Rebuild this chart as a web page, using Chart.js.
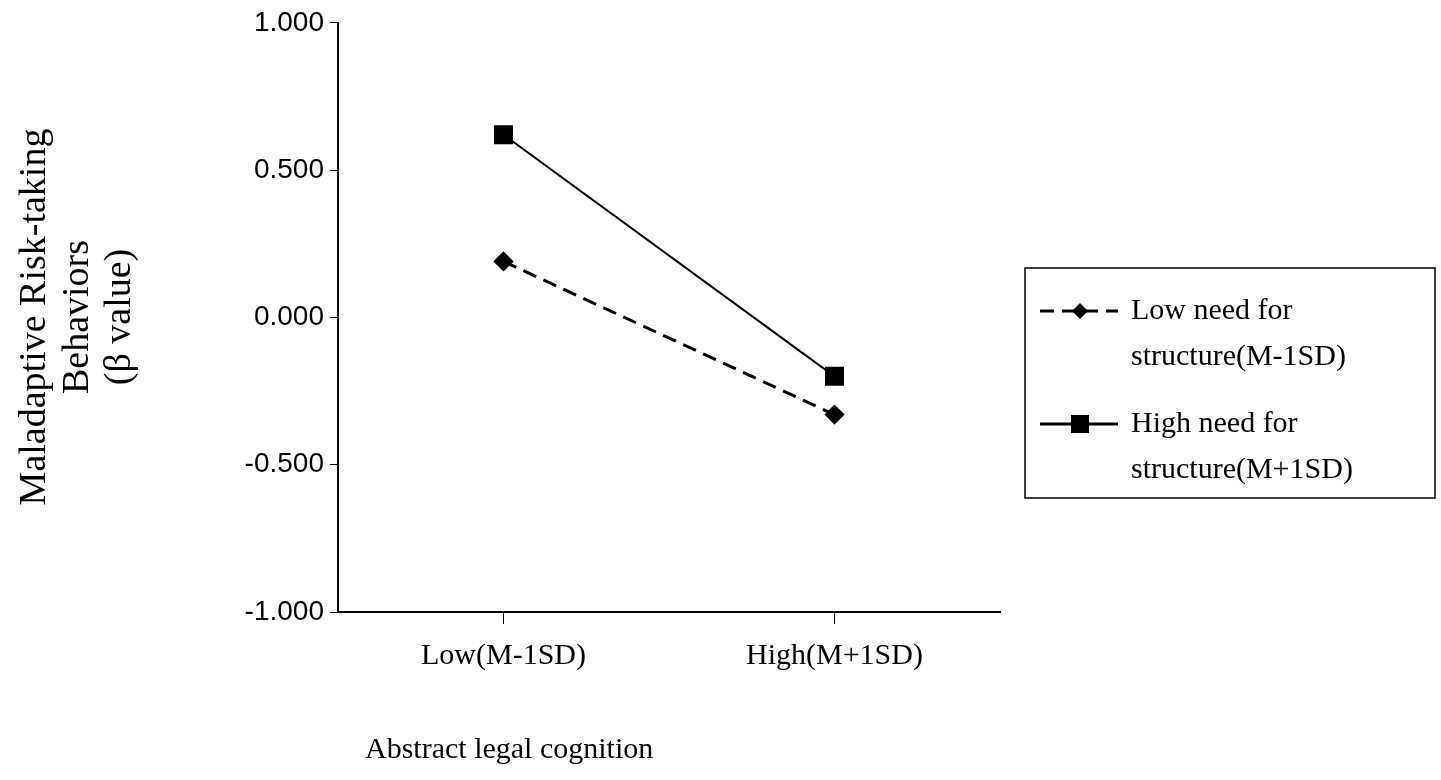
<!DOCTYPE html>
<html><head><meta charset="utf-8">
<script src="https://cdn.jsdelivr.net/npm/chart.js@4"></script>
<style>html,body{margin:0;padding:0;background:#fff}#wrap{width:1441px;height:780px}</style>
</head><body><div id="wrap"><canvas id="c" width="1441" height="780"></canvas></div>
<script>
const categories = ["Low(M-1SD)", "High(M+1SD)"];
const lowNeed = [0.19, -0.33];
const highNeed = [0.62, -0.20];
const yTicks = [-1, -0.5, 0, 0.5, 1];
const seriesNames = [["Low need for", "structure(M-1SD)"], ["High need for", "structure(M+1SD)"]];
const yTitle = ["Maladaptive Risk-taking", "Behaviors", "(β value)"];
const xTitle = "Abstract legal cognition";

const serif = "'Liberation Serif','Times New Roman',serif";
const sans = "'Liberation Sans',Arial,sans-serif";

const extras = {
  id: 'extras',
  afterDraw(chart) {
    const ctx = chart.ctx;
    ctx.save();
    ctx.fillStyle = '#000';
    ctx.font = '38px ' + serif;
    ctx.textAlign = 'center'; ctx.textBaseline = 'middle';
    const xs = [35, 78, 120];
    yTitle.forEach((t, i) => {
      ctx.save(); ctx.translate(xs[i], 317); ctx.rotate(-Math.PI / 2);
      ctx.fillText(t, 0, 0); ctx.restore();
    });
    ctx.font = '30px ' + serif; ctx.textAlign = 'left';
    ctx.fillText(xTitle, 365, 750);
    ctx.strokeStyle = '#000'; ctx.lineWidth = 1.5;
    ctx.strokeRect(1025, 268, 410, 230);
    chart.data.datasets.forEach((ds, i) => {
      const y0 = 311 + i * 113;
      ctx.beginPath(); ctx.lineWidth = 3;
      ctx.setLineDash(ds.borderDash || []);
      ctx.moveTo(1040, y0); ctx.lineTo(1118, y0); ctx.stroke();
      ctx.setLineDash([]);
      const cx = 1080;
      if (ds.pointStyle === 'rectRot') {
        ctx.beginPath(); ctx.moveTo(cx, y0 - 8); ctx.lineTo(cx + 8, y0); ctx.lineTo(cx, y0 + 8); ctx.lineTo(cx - 8, y0); ctx.closePath(); ctx.fill();
      } else {
        ctx.fillRect(cx - 9, y0 - 9, 18, 18);
      }
      ctx.font = '30px ' + serif; ctx.textAlign = 'left';
      ctx.fillText(seriesNames[i][0], 1131, y0);
      ctx.fillText(seriesNames[i][1], 1131, y0 + 46);
    });
    ctx.restore();
  }
};

new Chart(document.getElementById('c'), {
  type: 'line',
  data: {
    labels: categories,
    datasets: [
      { label: seriesNames[0].join(' '), data: lowNeed, borderColor: '#000', backgroundColor: '#000', borderWidth: 3, borderDash: [14, 8], pointStyle: 'rectRot', pointRadius: 8, pointHoverRadius: 8 },
      { label: seriesNames[1].join(' '), data: highNeed, borderColor: '#000', backgroundColor: '#000', borderWidth: 2, pointStyle: 'rect', pointRadius: 12, pointHoverRadius: 12 }
    ]
  },
  options: {
    responsive: false, animation: false, devicePixelRatio: 1,
    layout: { padding: { top: 22, right: 441, left: 0, bottom: 0 } },
    plugins: { legend: { display: false }, tooltip: { enabled: false } },
    scales: {
      x: {
        offset: true,
        grid: { drawOnChartArea: false, offset: false, tickLength: 12, color: '#000' },
        border: { color: '#000', width: 2 },
        ticks: { color: '#000', font: { family: serif, size: 30 }, padding: 14 },
        afterFit(s) { s.height = 168; }
      },
      y: {
        min: -1, max: 1,
        afterBuildTicks(s) { s.ticks = yTicks.map(v => ({ value: v })); },
        grid: { drawOnChartArea: false, tickLength: 8, color: '#000' },
        border: { color: '#000', width: 2 },
        ticks: { color: '#000', font: { family: sans, size: 28 }, padding: 6, callback: v => Number(v).toFixed(3) },
        afterFit(s) { s.width = 338; }
      }
    }
  },
  plugins: [extras]
});
</script></body></html>
